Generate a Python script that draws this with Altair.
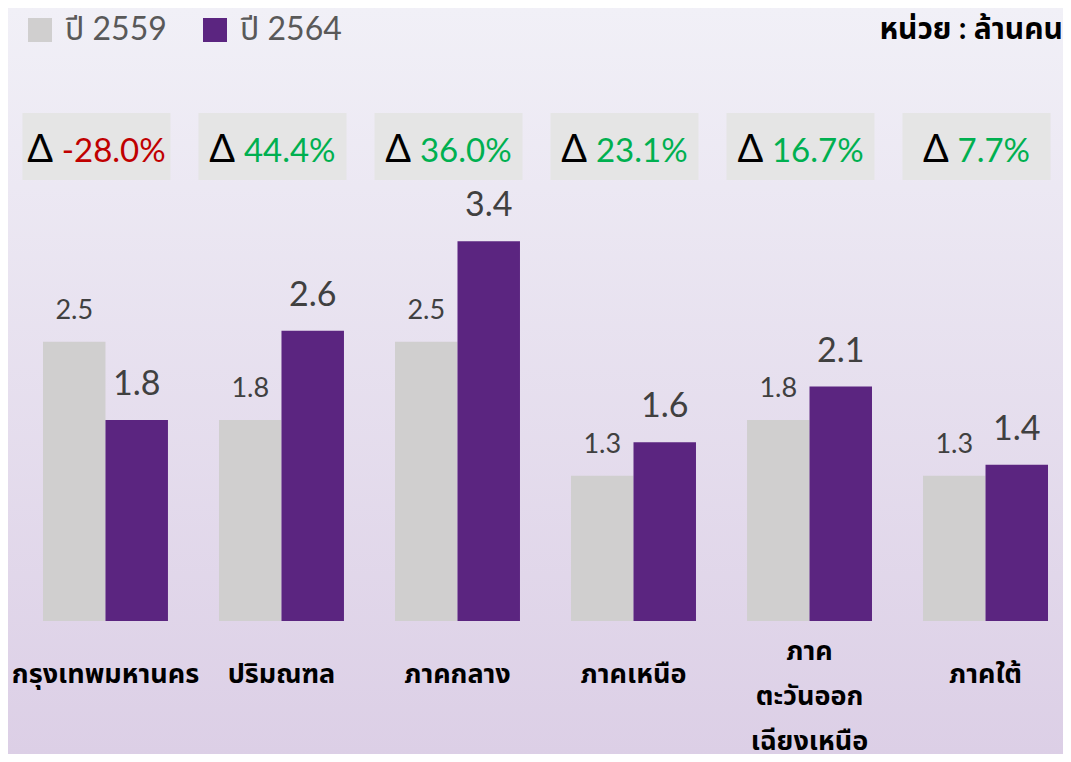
import altair as alt
import pandas as pd

categories = ["กรุงเทพมหานคร", "ปริมณฑล", "ภาคกลาง", "ภาคเหนือ", "ภาค\nตะวันออก\nเฉียงเหนือ", "ภาคใต้"]
series = ["ปี 2559", "ปี 2564"]
values_2559 = [2.5, 1.8, 2.5, 1.3, 1.8, 1.3]
values_2564 = [1.8, 2.6, 3.4, 1.6, 2.1, 1.4]
delta_pct = [-28.0, 44.4, 36.0, 23.1, 16.7, 7.7]
unit_text = "หน่วย : ล้านคน"

colors = ["#d0cfcf", "#5b2580"]
W, H, BOTTOM = 1055, 613, 133
FONT = "Lato, 'Noto Sans Thai', 'Noto Sans', sans-serif"

rows = []
for i, c in enumerate(categories):
    rows.append({"category": c, "series": series[0], "value": values_2559[i]})
    rows.append({"category": c, "series": series[1], "value": values_2564[i]})
bars_df = pd.DataFrame(rows)

# approximate text widths (em units for Lato) so the delta text is centred in its box
cw = {**{d: 0.58 for d in "0123456789"}, ".": 0.24, "%": 0.80, "-": 0.37}
PCT_SIZE, DELTA_SIZE, GAP, BOX_SHIFT = 33, 38, 11, -9
HALF_BAND = 62.5  # offsets are measured from the band start
drows = []
for c, d in zip(categories, delta_pct):
    lab = f"{d:.1f}%"
    pw = sum(cw[ch] for ch in lab) * PCT_SIZE
    dw = 0.62 * DELTA_SIZE
    total = dw + GAP + pw
    start = HALF_BAND + BOX_SHIFT - total / 2
    drows.append({"category": c, "delta": d, "pct": lab, "d_off": start, "p_off": start + dw + GAP})
delta_df = pd.DataFrame(drows)

xaxis = alt.Axis(
    title=None, domain=False, ticks=False, labelAngle=0, labelFont=FONT,
    labelFontSize=27, labelFontWeight="bold", labelColor="#000000",
    labelBaseline="top", labelLineHeight=45, labelLimit=400,
    labelExpr="split(datum.label, '\\n')",
    labelPadding={"condition": {"test": "indexof(datum.value, '\\n') >= 0", "value": 17}, "value": 40},
    zindex=1,
)
xscale = alt.Scale(domain=categories, paddingInner=0.29, paddingOuter=0.142, align=0.7)
xenc = alt.X("category:N", sort=categories, scale=xscale, axis=xaxis)
yscale = alt.Scale(domain=[0, 5.49], nice=False, zero=True)

bg = alt.Chart(alt.Data(values=[{}])).mark_rect(
    color=alt.Gradient(gradient="linear", x1=0, x2=0, y1=0, y2=1,
                       stops=[alt.GradientStop(offset=0, color="#f1f0f7"),
                              alt.GradientStop(offset=1, color="#dccfe6")])
).encode(x=alt.value(0), x2=alt.value(W), y=alt.value(0), y2=alt.value(H + BOTTOM))

base = alt.Chart(bars_df)
bars = base.mark_bar().encode(
    x=xenc,
    xOffset=alt.XOffset("series:N", sort=series, scale=alt.Scale(paddingInner=0, paddingOuter=0)),
    y=alt.Y("value:Q", scale=yscale, axis=None),
    color=alt.Color("series:N", sort=series, scale=alt.Scale(domain=series, range=colors),
                    legend=alt.Legend(title=None, orient="none", legendX=16, legendY=6,
                                      direction="horizontal", symbolType="square",
                                      symbolSize=576, symbolStrokeWidth=0, symbolOpacity=1,
                                      labelFont=FONT, labelFontSize=32, labelColor="#595959",
                                      labelOffset=9, columnPadding=32, padding=0, labelLimit=300)),
)

def bar_labels(s, size, gap):
    return base.transform_filter(alt.datum.series == s).mark_text(
        font=FONT, fontSize=size, color="#404040", baseline="alphabetic", dy=-gap
    ).encode(
        x=xenc,
        xOffset=alt.XOffset("series:N", sort=series, scale=alt.Scale(paddingInner=0, paddingOuter=0)),
        y=alt.Y("value:Q", scale=yscale, axis=None),
        text=alt.Text("value:Q", format=".1f"),
    )

lab1 = bar_labels(series[0], 27, 23)
lab2 = bar_labels(series[1], 34, 25)

dbase = alt.Chart(delta_df)
boxes = dbase.mark_bar(width=148, color="#e5e5e5", xOffset=BOX_SHIFT).encode(
    x=xenc, y=alt.value(105), y2=alt.value(172)
)
dsym = dbase.mark_text(font=FONT, fontSize=DELTA_SIZE, color="#000000", align="left",
                       baseline="alphabetic", text="Δ").encode(
    x=xenc, xOffset=alt.XOffset("d_off:Q", scale=None), y=alt.value(154)
)
dpct = dbase.mark_text(font=FONT, fontSize=PCT_SIZE, align="left", baseline="alphabetic").encode(
    x=xenc, xOffset=alt.XOffset("p_off:Q", scale=None), y=alt.value(154),
    text="pct:N",
    color=alt.condition("datum.delta < 0", alt.value("#c00000"), alt.value("#00b050")),
)

unit = alt.Chart(alt.Data(values=[{}])).mark_text(
    text=unit_text, font=FONT, fontSize=30, fontWeight="bold", color="#000000",
    align="right", baseline="alphabetic"
).encode(x=alt.value(W), y=alt.value(31))

chart = alt.layer(bg, bars, lab1, lab2, boxes, dsym, dpct, unit).properties(
    width=W, height=H,
    autosize=alt.AutoSizeParams(type="none"),
    padding={"left": 0, "top": 0, "right": 0, "bottom": BOTTOM},
    background="#f1f0f7",
).configure_view(stroke=None)

chart.save("out.html", embed_options={"renderer": "svg", "actions": False})
